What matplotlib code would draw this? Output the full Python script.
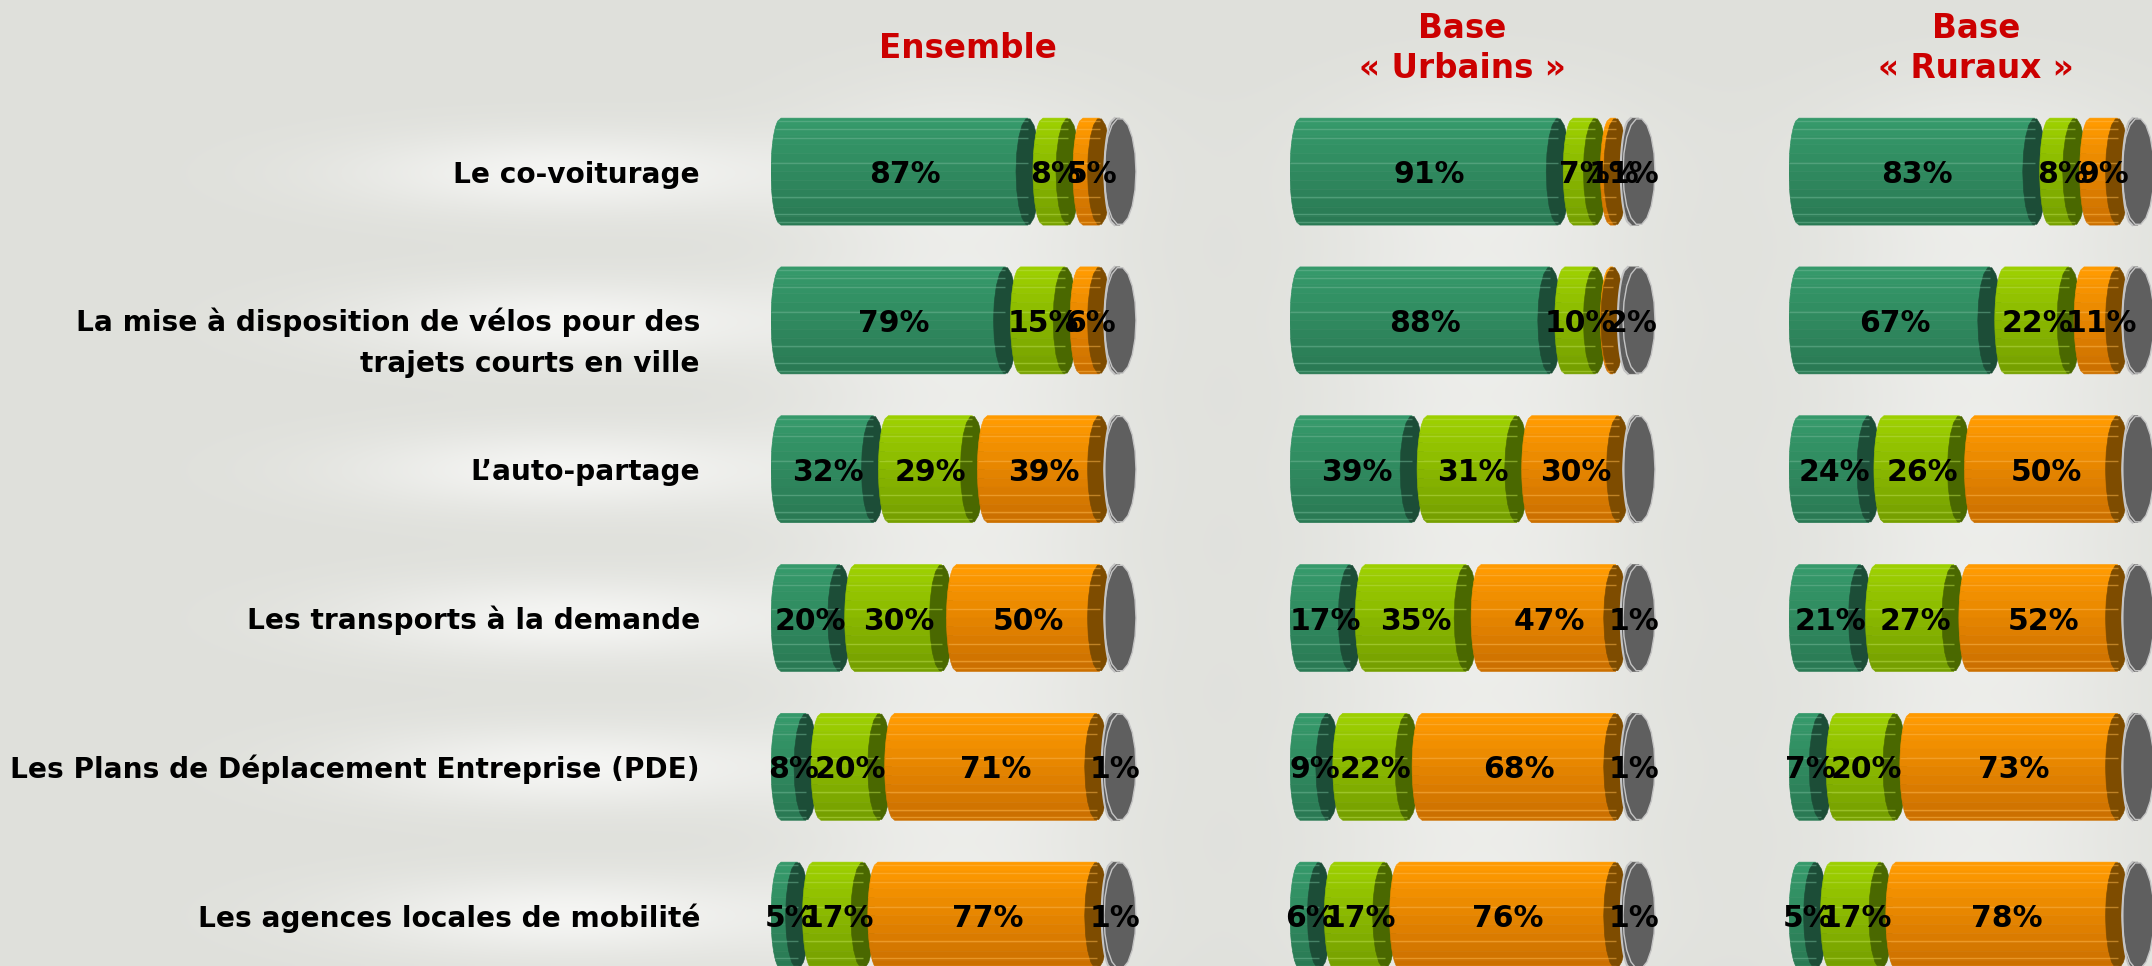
import numpy as np
import matplotlib
matplotlib.use('Agg')
import matplotlib.pyplot as plt
from matplotlib.patches import Polygon
from matplotlib.colors import to_rgb

# ---- data ----
rows = [
    "Le co-voiturage",
    "La mise à disposition de vélos pour des\ntrajets courts en ville",
    "L’auto-partage",
    "Les transports à la demande",
    "Les Plans de Déplacement Entreprise (PDE)",
    "Les agences locales de mobilité",
]
panel_titles = ["Ensemble", "Base\n« Urbains »", "Base\n« Ruraux »"]

ens_dark = [87, 79, 32, 20, 8, 5]
ens_light = [8, 15, 29, 30, 20, 17]
ens_orange = [5, 6, 39, 50, 71, 77]
ens_grey = [0, 0, 0, 0, 1, 1]

urb_dark = [91, 88, 39, 17, 9, 6]
urb_light = [7, 10, 31, 35, 22, 17]
urb_orange = [1, 0, 30, 47, 68, 76]
urb_grey = [1, 2, 0, 1, 1, 1]

rur_dark = [83, 67, 24, 21, 7, 5]
rur_light = [8, 22, 26, 27, 20, 17]
rur_orange = [9, 11, 50, 52, 73, 78]
rur_grey = [0, 0, 0, 0, 0, 0]

panels = [
    (ens_dark, ens_light, ens_orange, ens_grey),
    (urb_dark, urb_light, urb_orange, urb_grey),
    (rur_dark, rur_light, rur_orange, rur_grey),
]

# ---- style ----
W, H = 2152, 966
K = 2.81              # px per percentage point
PIECE = 17.5 / K      # each cylinder piece is longer by its end caps
TIP = 10 / K          # bulge of the left end
CAP = 12 / K          # half width of the dark end cap
CAP_SHIFT = 5 / K
GREY_CAP = 16 / K
ROW0, STEP = 171.6, 148.8   # px
BAR_H = 107 / STEP

# front top colour, front bottom colour, cap colour
styles = [
    ("#35996A", "#2A7A54", "#1C4D37"),
    ("#9CCF00", "#76A000", "#4A6800"),
    ("#FF9A00", "#CC7000", "#7E4C00"),
    ("#616161", "#5D5D5D", "#5F5F5F"),
]
panel_left = [771, 1290, 1789]
panel_width = [420, 420, W - 1789]
label_font = "DejaVu Sans"


def mix(c1, c2, t):
    a, b = np.array(to_rgb(c1)), np.array(to_rgb(c2))
    return tuple(a + (b - a) * t)


def ellipse(cx, cy, rx, ry, n=18):
    t = np.linspace(0, 2 * np.pi, n, endpoint=False)
    return np.column_stack([cx + rx * np.cos(t), cy + ry * np.sin(t)])


def piece(ax, a, xc, y, rx_cap, top, bot, cap, grey=False):
    ry = BAR_H / 2
    n = 12
    edges = np.linspace(y - ry, y + ry, n + 1)
    cx_left = a + TIP
    for j in range(n):
        ys = np.linspace(edges[j], edges[j + 1], 4)
        xl = cx_left - TIP * np.sqrt(np.clip(1 - ((ys - y) / ry) ** 2, 0, 1))
        xl = np.minimum(xl, xc)
        pts = list(zip(xl, ys)) + [(xc, edges[j + 1]), (xc, edges[j])]
        col = mix(top, bot, j / (n - 1))
        ax.add_patch(Polygon(pts, closed=True, fc=col, ec=col, lw=0.4))
    if not grey:
        for f in [0.03, 0.1, 0.19, 0.42, 0.74, 0.9, 0.97]:
            yy = y - ry + f * BAR_H
            xl = cx_left - TIP * np.sqrt(max(0, 1 - ((yy - y) / ry) ** 2))
            ax.plot([xl, xc], [yy, yy], color=mix(top, "#ffffff", 0.3),
                    lw=1.0, alpha=0.5, solid_capstyle='butt')
    else:
        ys = np.linspace(y - ry, y + ry, 30)
        xl = cx_left - TIP * np.sqrt(np.clip(1 - ((ys - y) / ry) ** 2, 0, 1))
        ax.plot(xl, ys, color="#C4C4C4", lw=1.5)
    ax.add_patch(Polygon(ellipse(xc, y, rx_cap, ry), closed=True,
                         fc=cap, ec="#C4C4C4" if grey else cap, lw=1.0 if grey else 0.4))


fig = plt.figure(figsize=(W / 100, H / 100), dpi=100)

# background with soft white glows behind the rows
bg = fig.add_axes([0, 0, 1, 1])
gx, gy = np.meshgrid(np.arange(0, W, 4), np.arange(0, H, 4))
glow = np.zeros_like(gx, dtype=float)
for i in range(len(rows)):
    yc = ROW0 + i * STEP
    glow += 0.75 * np.exp(-((gx - 570) / 220.0) ** 2 - ((gy - yc) / 40.0) ** 2)
    for L in panel_left:
        glow += 0.5 * np.exp(-((gx - (L + 190)) / 160.0) ** 2 - ((gy - yc) / 85.0) ** 2)
glow = np.clip(glow, 0, 1)[..., None]
base = np.array(to_rgb("#DFE0DB"))
white = np.array(to_rgb("#FCFCFB"))
bg.imshow(base + (white - base) * glow, extent=[0, W, H, 0], aspect='auto',
          interpolation='bilinear')
bg.set_xlim(0, W)
bg.set_ylim(H, 0)
bg.axis('off')

ylim = ((H - ROW0) / STEP, -ROW0 / STEP)

for p, series in enumerate(panels):
    ax = fig.add_axes([panel_left[p] / W, 0, panel_width[p] / W, 1])
    ax.set_xlim(0, panel_width[p] / K)
    ax.set_ylim(*ylim)
    ax.axis('off')
    ax.patch.set_alpha(0)
    for i in range(len(rows)):
        a = 0.0
        for s, values in enumerate(series):
            v = values[i]
            a2 = a + v + PIECE
            top, bot, cap = styles[s]
            if s == 3:
                piece(ax, a, a2 - 2 / K, i, GREY_CAP, top, bot, cap, grey=True)
            else:
                piece(ax, a, a2 - CAP_SHIFT, i, CAP, top, bot, cap)
            if v > 0:
                ax.text((a + a2) / 2 + 3 / K, i, f"{v}%", ha='center', va='center_baseline',
                        fontsize=21.5, fontweight='bold', family=label_font, color='black')
            a = a2

# row labels
for i, lab in enumerate(rows):
    for j, line in enumerate(lab.split("\n")):
        yb = ROW0 + i * STEP + 11 + j * 41
        bg.text(700, yb, line, ha='right', va='baseline', fontsize=20.2,
                fontweight='bold', family=label_font, color='black')

# panel titles
title_x = [968, 1462, 1976]
for p, t in enumerate(panel_titles):
    lines = t.split("\n")
    for j, line in enumerate(lines):
        yb = 58 if len(lines) == 1 else 38 + j * 40
        bg.text(title_x[p], yb, line, ha='center', va='baseline', fontsize=23.5,
                fontweight='bold', family=label_font, color='#CC0000')

fig.savefig("out.png", dpi=100)
